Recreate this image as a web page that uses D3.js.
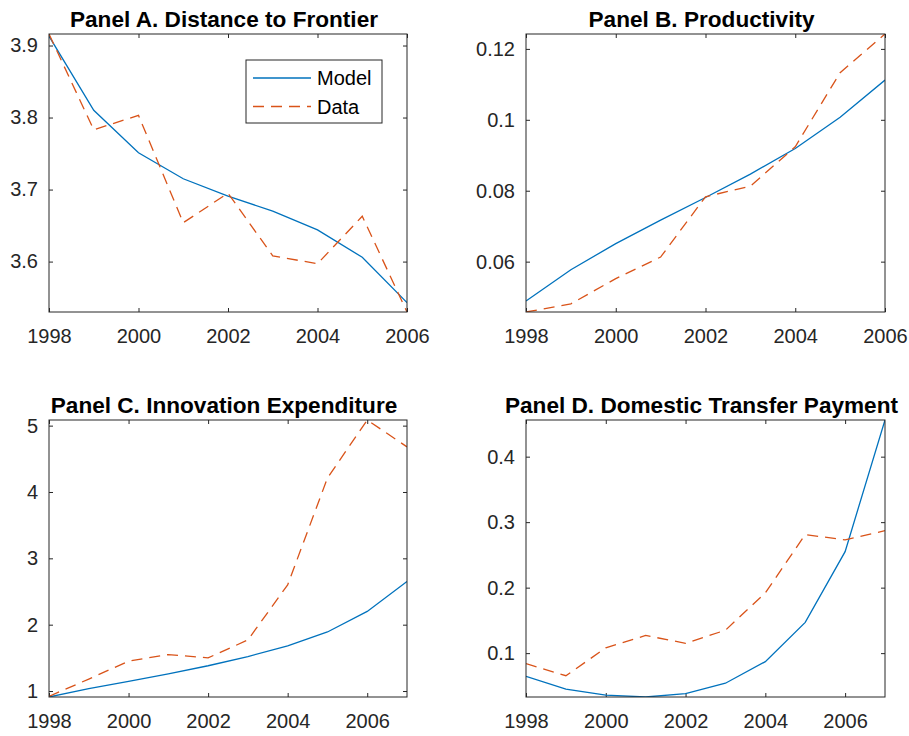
<!DOCTYPE html>
<html>
<head>
<meta charset="utf-8">
<script src="https://cdn.jsdelivr.net/npm/d3@7"></script>
<style>
  body { margin: 0; background: #fff; }
  svg text { font-family: "Liberation Sans", Arial, Helvetica, sans-serif; }
</style>
</head>
<body>
<div id="chart"></div>
<script>
const W = 909, H = 736;
const years9 = [1998, 1999, 2000, 2001, 2002, 2003, 2004, 2005, 2006];
const years10 = [1998, 1999, 2000, 2001, 2002, 2003, 2004, 2005, 2006, 2007];

// Panel A. Distance to Frontier
const distModel = [3.913, 3.810, 3.751, 3.715, 3.691, 3.670, 3.644, 3.606, 3.543];
const distData = [3.916, 3.783, 3.803, 3.654, 3.695, 3.608, 3.597, 3.663, 3.530];
// Panel B. Productivity
const prodModel = [0.0489, 0.0577, 0.0651, 0.0717, 0.0781, 0.0847, 0.0919, 0.1007, 0.1112];
const prodData = [0.0458, 0.0481, 0.0552, 0.0613, 0.0783, 0.0813, 0.0924, 0.1133, 0.1242];
// Panel C. Innovation Expenditure
const innoModel = [0.91, 1.035, 1.146, 1.26, 1.381, 1.52, 1.68, 1.89, 2.20, 2.65];
const innoData = [0.92, 1.18, 1.45, 1.55, 1.50, 1.77, 2.60, 4.21, 5.085, 4.68];
// Panel D. Domestic Transfer Payment
const transModel = [0.0645, 0.045, 0.036, 0.033, 0.038, 0.054, 0.087, 0.147, 0.255, 0.456];
const transData = [0.084, 0.0655, 0.108, 0.127, 0.115, 0.135, 0.192, 0.281, 0.273, 0.287];

const xTicks = [1998, 2000, 2002, 2004, 2006];
const distTicks = [3.6, 3.7, 3.8, 3.9];
const prodTicks = [0.06, 0.08, 0.1, 0.12];
const innoTicks = [1, 2, 3, 4, 5];
const transTicks = [0.1, 0.2, 0.3, 0.4];

const panels = [
  {title: "Panel A. Distance to Frontier", years: years9, model: distModel, data: distData, yTicks: distTicks,
   left: 49, top: 34, w: 358, h: 278, legend: true},
  {title: "Panel B. Productivity", years: years9, model: prodModel, data: prodData, yTicks: prodTicks,
   left: 526, top: 34, w: 359, h: 278},
  {title: "Panel C. Innovation Expenditure", years: years10, model: innoModel, data: innoData, yTicks: innoTicks,
   left: 49, top: 420, w: 358, h: 277},
  {title: "Panel D. Domestic Transfer Payment", years: years10, model: transModel, data: transData, yTicks: transTicks,
   left: 526, top: 420, w: 359, h: 277}
];

const modelColor = "#0072BD", dataColor = "#D95319", axisColor = "#262626";
const tickLen = 4;
const fmt = d3.format("~g");

const svg = d3.select("#chart").append("svg")
  .attr("width", W)
  .attr("height", H);

panels.forEach(function(p, i) {
  const g = svg.append("g").attr("transform", `translate(${p.left},${p.top})`);

  const x = d3.scaleLinear().domain(d3.extent(p.years)).range([0, p.w]);
  const y = d3.scaleLinear().domain(d3.extent(p.model.concat(p.data))).range([p.h, 0]);

  // ticks, pointing inwards on all four sides
  const bottom = g.append("g").attr("transform", `translate(0,${p.h})`)
    .call(d3.axisBottom(x).tickValues(xTicks).tickFormat(d3.format("d")).tickSizeInner(-tickLen).tickSizeOuter(0).tickPadding(17));
  const top = g.append("g")
    .call(d3.axisTop(x).tickValues(xTicks).tickFormat("").tickSizeInner(-tickLen).tickSizeOuter(0));
  const left = g.append("g")
    .call(d3.axisLeft(y).tickValues(p.yTicks).tickFormat(fmt).tickSizeInner(-tickLen).tickSizeOuter(0).tickPadding(11));
  const right = g.append("g").attr("transform", `translate(${p.w},0)`)
    .call(d3.axisRight(y).tickValues(p.yTicks).tickFormat("").tickSizeInner(-tickLen).tickSizeOuter(0));

  [bottom, top, left, right].forEach(function(a) {
    a.select(".domain").remove();
    a.selectAll(".tick line").attr("stroke", axisColor);
    a.selectAll(".tick text")
      .attr("fill", axisColor)
      .style("font-size", "20px")
      .style("font-family", "'Liberation Sans', Arial, sans-serif");
  });

  const clipId = "clip" + i;
  g.append("clipPath").attr("id", clipId)
    .append("rect").attr("width", p.w).attr("height", p.h);

  const line = d3.line()
    .x((d, j) => x(p.years[j]))
    .y(d => y(d));

  const plot = g.append("g").attr("clip-path", `url(#${clipId})`);
  plot.append("path")
    .datum(p.model)
    .attr("d", line)
    .attr("fill", "none")
    .attr("stroke", modelColor)
    .attr("stroke-width", 1.3);

  plot.append("path")
    .datum(p.data)
    .attr("d", line)
    .attr("fill", "none")
    .attr("stroke", dataColor)
    .attr("stroke-width", 1.3)
    .attr("stroke-dasharray", "11,7");

  // box
  g.append("rect")
    .attr("width", p.w)
    .attr("height", p.h)
    .attr("fill", "none")
    .attr("stroke", axisColor)
    .attr("stroke-width", 1);

  g.append("text")
    .attr("x", p.w / 2 - 4)
    .attr("y", -7)
    .attr("text-anchor", "middle")
    .style("font-size", "22.6px")
    .style("font-weight", "bold")
    .attr("fill", "#000")
    .text(p.title);

  if (p.legend) {
    const lg = g.append("g").attr("transform", `translate(${197},${26})`);
    lg.append("rect")
      .attr("width", 136)
      .attr("height", 63)
      .attr("fill", "#fff")
      .attr("stroke", axisColor)
      .attr("stroke-width", 1);
    const items = [{name: "Model", color: modelColor, dash: null}, {name: "Data", color: dataColor, dash: "11,7"}];
    items.forEach(function(it, k) {
      const ly = 18 + k * 28.5;
      lg.append("line")
        .attr("x1", 7).attr("x2", 65)
        .attr("y1", ly).attr("y2", ly)
        .attr("stroke", it.color)
        .attr("stroke-width", 1.3)
        .attr("stroke-dasharray", it.dash);
      lg.append("text")
        .attr("x", 71)
        .attr("y", ly)
        .attr("dy", "0.36em")
        .style("font-size", "20px")
        .attr("fill", "#000")
        .text(it.name);
    });
  }
});
</script>
</body>
</html>
